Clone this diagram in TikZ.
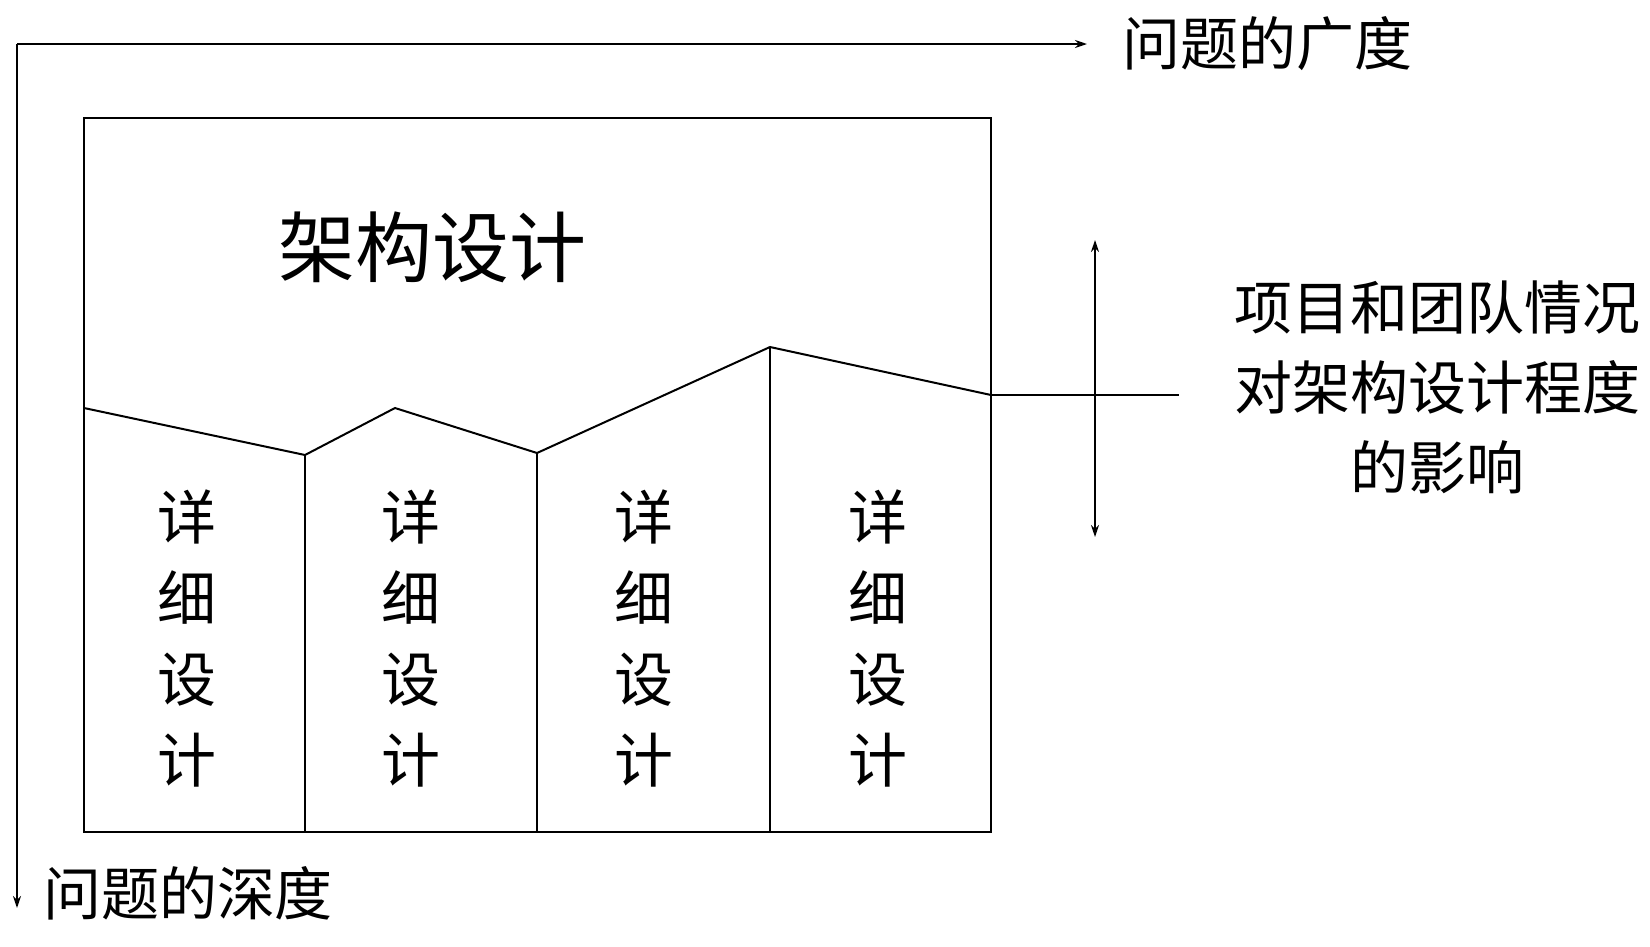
\documentclass[tikz,border=0pt]{standalone}
\usepackage{fontspec}
\setmainfont{Noto Sans CJK SC}
\usetikzlibrary{arrows.meta}
\tikzset{every picture/.style={line width=2pt}}
\tikzset{
	tip/.style={-{Stealth[length=12pt,width=8pt]}},
	lbl/.style={inner sep=0pt,font=\fontsize{58}{74}\selectfont},
	col/.style={inner sep=0pt,font=\fontsize{59}{81}\selectfont,align=center}
}
\begin{document}
\begin{tikzpicture}[x=1pt,y=-1pt]
	\useasboundingbox (0,0) rectangle (1650,946);
	
	% axes
	\coordinate (o) at (17,44);
	\coordinate (xend) at (1087,44);
	\coordinate (yend) at (17,908);
	\draw [tip] (o) -- (xend);
	\draw [tip] (o) -- (yend);
	\node (wide) [lbl,anchor=west] at (1121,44) {问题的广度};
	\node (deep) [lbl,anchor=west] at (42,893) {问题的深度};
	
	% outer box
	\draw (84,118) rectangle (991,832);
	% boundary line
	\coordinate (p0) at (84,408);
	\coordinate (p1) at (305,455);
	\coordinate (p2) at (395,408);
	\coordinate (p3) at (537,453);
	\coordinate (p4) at (770,347);
	\coordinate (p5) at (991,395);
	\draw (p0) -- (p1) -- (p2) -- (p3) -- (p4) -- (p5);
	\draw (p1) -- (305,832);
	\draw (p3) -- (537,832);
	\draw (p4) -- (770,832);
	
	\node (arch) [inner sep=0pt,font=\fontsize{77}{90}\selectfont] at (432,247) {架构设计};
	\foreach \cx [count=\i] in {187,411,644,878}
		\node (d\i) [col] at (\cx,638) {详\\细\\设\\计};
	
	% influence
	\coordinate (hend) at (1179,395);
	\draw (p5) -- (hend);
	\coordinate (up) at (1095,240);
	\coordinate (dn) at (1095,537);
	\draw [{Stealth[length=12pt,width=8pt]}-{Stealth[length=12pt,width=8pt]}] (up) -- (dn);
	\node (note) [col,font=\fontsize{58}{80}\selectfont] at (1437,387) {项目和团队情况\\对架构设计程度\\的影响};
\end{tikzpicture}
\end{document}
